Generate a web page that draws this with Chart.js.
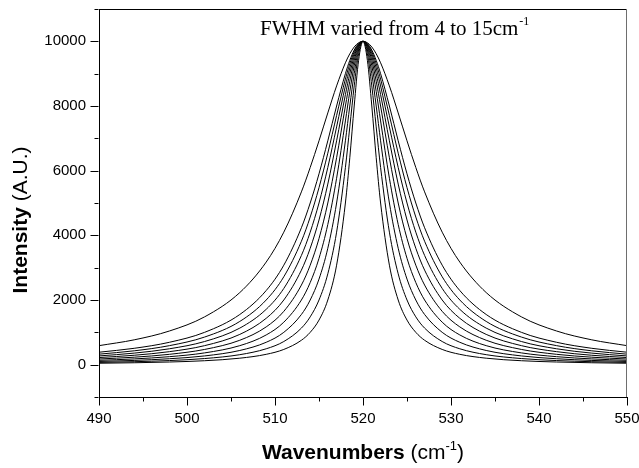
<!DOCTYPE html>
<html lang="en">
<head>
  <meta charset="UTF-8">
  <title>FWHM Lorentzian curves</title>
  <style>
    body {
      margin: 0;
      background: #fff;
    }
    .chart-container {
      width: 639px;
      height: 468px;
      position: relative;
    }
  </style>
</head>
<body>
  <div class="chart-container">
    <canvas id="peakChart"></canvas>
  </div>

  <script src="https://cdn.jsdelivr.net/npm/chart.js"></script>
  <script>
    // Wavenumber positions (cm-1) where the curves were read
    const wavenumbers = [490, 494, 498, 502, 506, 509, 511, 513, 514, 515, 516, 517, 518, 518.5, 519, 519.5, 520,
      520.5, 521, 521.5, 522, 523, 524, 525, 526, 527, 529, 531, 534, 538, 542, 546, 550];

    // Intensity for each FWHM (cm-1)
    const fwhm4 = [44, 59, 82, 122, 200, 320, 471, 755, 1000, 1379, 2000, 3077, 5000, 6400, 8000, 9412, 10000,
      9412, 8000, 6400, 5000, 3077, 2000, 1379, 1000, 755, 471, 320, 200, 122, 82, 59, 44];
    const fwhm5 = [69, 92, 127, 189, 309, 491, 716, 1131, 1479, 2000, 2809, 4098, 6098, 7353, 8621, 9615, 10000,
      9615, 8621, 7353, 6098, 4098, 2809, 2000, 1479, 1131, 716, 491, 309, 189, 127, 92, 69];
    const fwhm6 = [99, 131, 183, 270, 439, 692, 1000, 1552, 2000, 2647, 3600, 5000, 6923, 8000, 9000, 9730, 10000,
      9730, 9000, 8000, 6923, 5000, 3600, 2647, 2000, 1552, 1000, 692, 439, 270, 183, 131, 99];
    const fwhm7 = [134, 178, 247, 364, 588, 919, 1314, 2000, 2539, 3289, 4336, 5765, 7538, 8448, 9245, 9800, 10000,
      9800, 9245, 8448, 7538, 5765, 4336, 3289, 2539, 2000, 1314, 919, 588, 364, 247, 178, 134];
    const fwhm8 = [175, 231, 320, 471, 755, 1168, 1649, 2462, 3077, 3902, 5000, 6400, 8000, 8767, 9412, 9846, 10000,
      9846, 9412, 8767, 8000, 6400, 5000, 3902, 3077, 2462, 1649, 1168, 755, 471, 320, 231, 175];
    const fwhm9 = [220, 291, 402, 588, 936, 1434, 2000, 2924, 3600, 4475, 5586, 6923, 8351, 9000, 9529, 9878, 10000,
      9878, 9529, 9000, 8351, 6923, 5586, 4475, 3600, 2924, 2000, 1434, 936, 588, 402, 291, 220];
    const fwhm10 = [270, 357, 491, 716, 1131, 1712, 2358, 3378, 4098, 5000, 6098, 7353, 8621, 9174, 9615, 9901, 10000,
      9901, 9615, 9174, 8621, 7353, 6098, 5000, 4098, 3378, 2358, 1712, 1131, 716, 491, 357, 270];
    const fwhm11 = [325, 428, 588, 854, 1337, 2000, 2719, 3817, 4566, 5475, 6541, 7707, 8832, 9308, 9680, 9918, 10000,
      9918, 9680, 9308, 8832, 7707, 6541, 5475, 4566, 3817, 2719, 2000, 1337, 854, 588, 428, 325];
    const fwhm12 = [385, 506, 692, 1000, 1552, 2293, 3077, 4235, 5000, 5902, 6923, 8000, 9000, 9412, 9730, 9931, 10000,
      9931, 9730, 9412, 9000, 8000, 6923, 5902, 5000, 4235, 3077, 2293, 1552, 1000, 692, 506, 385];
    const fwhm15 = [588, 768, 1041, 1479, 2230, 3173, 4098, 5344, 6098, 6923, 7785, 8621, 9336, 9615, 9825, 9956, 10000,
      9956, 9825, 9615, 9336, 8621, 7785, 6923, 6098, 5344, 4098, 3173, 2230, 1479, 1041, 768, 588];

    const seriesNames = ['4', '5', '6', '7', '8', '9', '10', '11', '12', '15'];
    const seriesValues = [fwhm4, fwhm5, fwhm6, fwhm7, fwhm8, fwhm9, fwhm10, fwhm11, fwhm12, fwhm15];

    // Axis ticks
    const xMajorTicks = [490, 500, 510, 520, 530, 540, 550];
    const xMinorTicks = [495, 505, 515, 525, 535, 545];
    const yMajorTicks = [0, 2000, 4000, 6000, 8000, 10000];
    const yMinorTicks = [-1000, 1000, 3000, 5000, 7000, 9000, 11000];

    const sans = "'Liberation Sans', Arial, sans-serif";
    const serif = "'Liberation Serif', 'Times New Roman', serif";
    Chart.defaults.font.family = sans;
    Chart.defaults.color = '#000';

    const datasets = seriesValues.map((vals, i) => ({
      label: 'FWHM ' + seriesNames[i],
      data: wavenumbers.map((w, j) => ({ x: w, y: vals[j] })),
      borderColor: '#000',
      borderWidth: 1,
      pointRadius: 0,
      fill: false,
      cubicInterpolationMode: 'monotone'
    }));

    // draws the ticks, the frame and the mixed-weight titles
    const decorations = {
      id: 'decorations',
      afterDraw(chart) {
        const { ctx, chartArea: a, scales: { x, y } } = chart;
        ctx.save();
        ctx.lineWidth = 1;

        // frame top and right
        ctx.strokeStyle = '#000';
        ctx.beginPath();
        ctx.moveTo(a.left, Math.round(a.top) + 0.5);
        ctx.lineTo(a.right, Math.round(a.top) + 0.5);
        ctx.stroke();
        ctx.strokeStyle = '#6e6e6e';
        ctx.beginPath();
        ctx.moveTo(Math.round(a.right) - 0.5, a.top);
        ctx.lineTo(Math.round(a.right) - 0.5, a.bottom);
        ctx.stroke();

        // ticks
        ctx.strokeStyle = '#000';
        ctx.beginPath();
        const bx = Math.round(a.bottom) + 0.5;
        xMajorTicks.forEach(v => {
          const px = Math.round(x.getPixelForValue(v)) + 0.5;
          ctx.moveTo(px, bx); ctx.lineTo(px, bx + 8);
        });
        xMinorTicks.forEach(v => {
          const px = Math.round(x.getPixelForValue(v)) + 0.5;
          ctx.moveTo(px, bx); ctx.lineTo(px, bx + 4);
        });
        const lx = Math.round(a.left) - 0.5;
        yMajorTicks.forEach(v => {
          const py = Math.round(y.getPixelForValue(v)) + 0.5;
          ctx.moveTo(lx, py); ctx.lineTo(lx - 8, py);
        });
        yMinorTicks.forEach(v => {
          const py = Math.round(y.getPixelForValue(v)) + 0.5;
          ctx.moveTo(lx, py); ctx.lineTo(lx - 4, py);
        });
        ctx.stroke();

        ctx.fillStyle = '#000';
        ctx.textBaseline = 'alphabetic';
        ctx.textAlign = 'left';

        // note inside the plot
        ctx.font = '21px ' + serif;
        const note = 'FWHM varied from 4 to 15cm';
        ctx.fillText(note, 260, 35);
        const nw = ctx.measureText(note).width;
        ctx.font = '12px ' + serif;
        ctx.fillText('-1', 260 + nw + 1, 25);

        // x axis title
        const parts = [
          ['bold 21px ' + sans, 'Wavenumbers', 0],
          ['21px ' + sans, ' (cm', 0],
          ['13px ' + sans, '-1', -9],
          ['21px ' + sans, ')', 0]
        ];
        let total = 0;
        parts.forEach(p => { ctx.font = p[0]; total += ctx.measureText(p[1]).width; });
        let cx = (a.left + a.right) / 2 - total / 2;
        parts.forEach(p => {
          ctx.font = p[0];
          ctx.fillText(p[1], cx, 459 + p[2]);
          cx += ctx.measureText(p[1]).width;
        });

        // y axis title
        ctx.translate(27, 220);
        ctx.rotate(-Math.PI / 2);
        ctx.font = 'bold 21px ' + sans;
        const t1 = 'Intensity';
        const w1 = ctx.measureText(t1).width;
        ctx.font = '21px ' + sans;
        const t2 = ' (A.U.)';
        const w2 = ctx.measureText(t2).width;
        let sx = -(w1 + w2) / 2;
        ctx.font = 'bold 21px ' + sans;
        ctx.fillText(t1, sx, 0);
        ctx.font = '21px ' + sans;
        ctx.fillText(t2, sx + w1, 0);

        ctx.restore();
      }
    };

    new Chart(document.getElementById('peakChart'), {
      type: 'line',
      data: { datasets: datasets },
      options: {
        responsive: true,
        maintainAspectRatio: false,
        animation: false,
        layout: { padding: { left: 0, top: 9, right: 12, bottom: 0 } },
        plugins: {
          legend: { display: false },
          tooltip: { enabled: false }
        },
        scales: {
          x: {
            type: 'linear',
            min: 490,
            max: 550,
            grid: { display: false },
            border: { display: true, color: '#000', width: 1 },
            ticks: {
              stepSize: 10,
              padding: 5,
              font: { size: 15 },
              color: '#000',
              maxRotation: 0,
              callback: v => String(v)
            },
            afterFit: scale => {
              scale.height = 71;
              scale.paddingLeft = 0;
              scale.paddingRight = 0;
            }
          },
          y: {
            min: -1000,
            max: 11000,
            grid: { display: false },
            border: { display: true, color: '#000', width: 1 },
            ticks: {
              stepSize: 1000,
              autoSkip: false,
              padding: 5,
              font: { size: 15 },
              color: '#000',
              callback: v => (v % 2000 === 0 ? String(v) : '')
            },
            afterFit: scale => {
              scale.width = 99;
              scale.paddingTop = 0;
              scale.paddingBottom = 0;
            }
          }
        }
      },
      plugins: [decorations]
    });
  </script>
</body>
</html>
